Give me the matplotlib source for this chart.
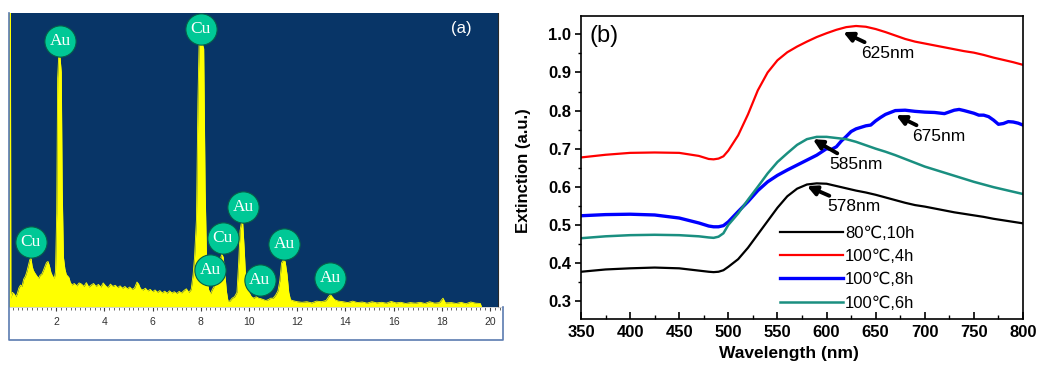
import matplotlib
matplotlib.use("Agg")
import matplotlib.pyplot as plt
from matplotlib.ticker import MultipleLocator
import numpy as np

plt.rcParams['font.family'] = ['Liberation Sans', 'DejaVu Sans']

# ---------------- Panel (a): EDS spectrum ----------------
eds_energy = [0.04, 0.06, 0.10, 0.12, 0.18, 0.25, 0.32, 0.38, 0.45, 0.52, 0.58, 0.65, 0.72, 0.78,
              0.84, 0.90, 0.95, 1.00, 1.05, 1.12, 1.20, 1.27, 1.33, 1.40, 1.47, 1.53, 1.60, 1.66,
              1.72, 1.78, 1.85, 1.92, 1.97, 2.02, 2.06, 2.10, 2.16, 2.21, 2.25, 2.30, 2.36, 2.42,
              2.48, 2.53, 2.58, 2.65, 2.75, 2.85, 2.95, 3.05, 3.15, 3.25, 3.35, 3.45, 3.55, 3.65,
              3.75, 3.85, 3.95, 4.05, 4.15, 4.25, 4.35, 4.45, 4.55, 4.65, 4.75, 4.85, 4.95, 5.05,
              5.15, 5.25, 5.35, 5.42, 5.5, 5.6, 5.7, 5.8, 5.9, 6.0, 6.1, 6.2, 6.3, 6.4, 6.5, 6.6,
              6.7, 6.8, 6.9, 7.0, 7.1, 7.2, 7.3, 7.4, 7.5, 7.6, 7.68, 7.74, 7.82, 7.88, 7.93, 8.05,
              8.12, 8.18, 8.25, 8.32, 8.40, 8.48, 8.55, 8.62, 8.68, 8.74, 8.80, 8.87, 8.93, 9.0,
              9.07, 9.13, 9.2, 9.3, 9.4, 9.5, 9.57, 9.63, 9.68, 9.74, 9.80, 9.86, 9.92, 10.0, 10.1,
              10.2, 10.3, 10.4, 10.5, 10.6, 10.7, 10.8, 10.9, 11.0, 11.1, 11.2, 11.28, 11.35, 11.42,
              11.5, 11.58, 11.65, 11.72, 11.8, 11.9, 12.0, 12.2, 12.4, 12.6, 12.8, 13.0, 13.2, 13.3,
              13.38, 13.45, 13.55, 13.7, 13.9, 14.1, 14.3, 14.5, 14.7, 14.9, 15.1, 15.3, 15.5, 15.7,
              15.9, 16.1, 16.3, 16.5, 16.7, 16.9, 17.1, 17.3, 17.5, 17.7, 17.9, 18.05, 18.15, 18.4,
              18.6, 18.8, 19.0, 19.2, 19.4, 19.6, 19.65]
eds_counts = [0.0, 1.05, 1.05, 0.03, 0.05, 0.045, 0.035, 0.045, 0.065, 0.075, 0.07, 0.095, 0.105, 0.12,
              0.14, 0.16, 0.168, 0.14, 0.125, 0.115, 0.105, 0.098, 0.108, 0.112, 0.125, 0.138, 0.152, 0.155,
              0.14, 0.118, 0.105, 0.098, 0.12, 0.32, 0.78, 0.85, 0.85, 0.80, 0.40, 0.17, 0.13, 0.11,
              0.105, 0.10, 0.085, 0.075, 0.08, 0.072, 0.082, 0.078, 0.07, 0.083, 0.068, 0.075, 0.08, 0.07,
              0.077, 0.068, 0.082, 0.072, 0.066, 0.078, 0.07, 0.074, 0.066, 0.072, 0.064, 0.07, 0.062, 0.068,
              0.06, 0.065, 0.085, 0.078, 0.062, 0.058, 0.064, 0.055, 0.06, 0.052, 0.058, 0.05, 0.056, 0.048, 0.054, 0.047,
              0.055, 0.048, 0.052, 0.046, 0.053, 0.048, 0.056, 0.062, 0.05, 0.06, 0.11, 0.17, 0.30, 0.70, 0.90, 0.90,
              0.88, 0.40, 0.12, 0.06, 0.045, 0.06, 0.07, 0.10, 0.08, 0.12, 0.16, 0.18, 0.17, 0.11,
              0.05, 0.02, 0.02, 0.03, 0.035, 0.05, 0.15, 0.26, 0.285, 0.285, 0.20, 0.10, 0.06, 0.05, 0.035,
              0.03, 0.035, 0.03, 0.028, 0.025, 0.022, 0.025, 0.03, 0.03, 0.04, 0.055, 0.09, 0.15, 0.16,
              0.155, 0.11, 0.05, 0.025, 0.022, 0.02, 0.018, 0.016, 0.018, 0.014, 0.02, 0.018, 0.022, 0.035,
              0.042, 0.035, 0.025, 0.02, 0.018, 0.015, 0.02, 0.015, 0.017, 0.013, 0.018, 0.014, 0.016, 0.013,
              0.019, 0.014, 0.016, 0.012, 0.015, 0.013, 0.016, 0.012, 0.018, 0.013, 0.015, 0.03, 0.014, 0.015,
              0.012, 0.016, 0.011, 0.017, 0.013, 0.012, 0.0]

peak_labels = ['Au', 'Cu', 'Cu', 'Au', 'Cu', 'Au', 'Au', 'Au', 'Au']
peak_label_E = [2.16, 7.99, 0.94, 9.75, 8.91, 8.38, 10.44, 11.45, 13.36]
peak_label_h = [0.905, 0.946, 0.221, 0.340, 0.235, 0.126, 0.092, 0.214, 0.099]

# ---------------- Panel (b): extinction spectra ----------------
wl = [350, 375, 400, 425, 450, 470, 480, 485, 490, 495, 500, 510, 520, 530, 540, 550, 560, 570,
      580, 590, 600, 610, 620, 630, 640, 650, 660, 670, 680, 690, 700, 710, 720, 730, 740, 750,
      760, 770, 780, 790, 800]
ext_80C_10h = [0.377, 0.383, 0.386, 0.388, 0.386, 0.380, 0.377, 0.376, 0.377, 0.381, 0.39, 0.41, 0.44,
               0.475, 0.51, 0.545, 0.575, 0.595, 0.606, 0.609, 0.608, 0.602, 0.596, 0.59, 0.585, 0.579,
               0.572, 0.565, 0.558, 0.552, 0.548, 0.543, 0.538, 0.533, 0.529, 0.525, 0.521, 0.516,
               0.512, 0.508, 0.504]
ext_100C_4h = [0.677, 0.684, 0.689, 0.690, 0.689, 0.681, 0.673, 0.672, 0.674, 0.68, 0.695, 0.735, 0.79,
               0.853, 0.900, 0.932, 0.953, 0.968, 0.981, 0.993, 1.003, 1.012, 1.019, 1.022, 1.020, 1.014,
               1.006, 0.997, 0.988, 0.981, 0.976, 0.971, 0.966, 0.961, 0.956, 0.952, 0.946, 0.939,
               0.933, 0.927, 0.92]
ext_100C_6h = [0.465, 0.470, 0.473, 0.474, 0.473, 0.470, 0.467, 0.466, 0.469, 0.478, 0.50, 0.53, 0.566,
               0.60, 0.635, 0.665, 0.688, 0.71, 0.725, 0.731, 0.731, 0.728, 0.725, 0.718, 0.709, 0.70,
               0.692, 0.683, 0.673, 0.663, 0.653, 0.645, 0.637, 0.629, 0.621, 0.613, 0.606, 0.599,
               0.593, 0.587, 0.581]
wl_8h = [350, 375, 400, 425, 450, 470, 480, 485, 490, 495, 500, 510, 520, 530, 540, 550, 560, 570,
         580, 590, 600, 605, 610, 615, 620, 625, 630, 640, 645, 650, 655, 660, 665, 670, 680, 690,
         700, 710, 720, 730, 735, 740, 750, 755, 760, 765, 770, 775, 780, 785, 790, 795, 800]
ext_100C_8h = [0.524, 0.527, 0.528, 0.526, 0.518, 0.505, 0.497, 0.495, 0.495, 0.498, 0.508, 0.535, 0.561,
               0.59, 0.613, 0.63, 0.644, 0.657, 0.67, 0.683, 0.70, 0.698, 0.705, 0.72, 0.732, 0.745,
               0.752, 0.76, 0.762, 0.773, 0.782, 0.79, 0.795, 0.80, 0.801, 0.798, 0.796, 0.795, 0.792,
               0.801, 0.803, 0.80, 0.793, 0.788, 0.788, 0.784, 0.775, 0.764, 0.766, 0.771, 0.77, 0.767,
               0.762]

series_labels = ['80\u2103,10h', '100\u2103,4h', '100\u2103,8h', '100\u2103,6h']
peak_text = ['625nm', '675nm', '585nm', '578nm']
peak_head_x = [617, 670.7, 586, 580]
peak_head_y = [1.006, 0.788, 0.725, 0.602]
peak_text_x = [635, 687, 603, 601]
peak_text_y = [0.951, 0.733, 0.659, 0.548]

fig = plt.figure(figsize=(10.38, 3.65), dpi=100)

# ---- panel (a)
NAVY = '#083567'
axa = fig.add_axes([9/1038, 25/365, 494/1038, 326.7/365])
axa.set_facecolor('white')
xmin_a, xmax_a = 0.041, 20.54
axa.set_xlim(xmin_a, xmax_a)
axa.set_ylim(-0.1124, 1.0)
axa.add_patch(plt.Rectangle((xmin_a, 0), 20.33 - xmin_a, 1.0, facecolor=NAVY,
                            edgecolor='none', zorder=0))
axa.plot([20.33, 20.33], [0, 1.0], color='#2a2a2a', lw=0.8, zorder=1)
axa.fill_between(eds_energy, 0, eds_counts, color='#ffff00', lw=0, zorder=2)
axa.plot(eds_energy, eds_counts, color='#ffff00', lw=0.6, zorder=2)
axa.plot(peak_label_E, peak_label_h, 'o', ms=22.5, mfc='#00c896', mec='#06604a',
         mew=0.8, zorder=4, linestyle='none')
for t, x, y in zip(peak_labels, peak_label_E, peak_label_h):
    axa.text(x, y, t, ha='center', va='center', color='white', fontsize=12.5,
             family='Liberation Serif', zorder=5)
for s in ['top', 'right', 'left']:
    axa.spines[s].set_visible(False)
axa.spines['bottom'].set_position(('data', 0))
axa.spines['bottom'].set_color('#d0d0d0')
axa.spines['bottom'].set_linewidth(0.6)
axa.xaxis.set_major_locator(MultipleLocator(2))
axa.xaxis.set_minor_locator(MultipleLocator(0.2))
axa.tick_params(axis='x', which='major', direction='out', length=3, width=0.8,
                color='#404040', labelsize=7.5, labelcolor='#303030', pad=4.5)
axa.tick_params(axis='x', which='minor', direction='out', length=2, width=0.6, color='#505050')
axa.set_xticks([2, 4, 6, 8, 10, 12, 14, 16, 18, 20])
axa.set_yticks([])
BORDER = '#5b7bb0'
axa.plot([0, 0, 1, 1], [1.0, 0, 0, 0.1012], transform=axa.transAxes, color=BORDER,
         lw=1.2, clip_on=False, zorder=6)
axa.text(0.895, 0.955, '(a)', transform=axa.transAxes, color='white', fontsize=12,
         ha='left', va='center')

# ---- panel (b)
axb = fig.add_axes([581/1038, 46/365, 442/1038, 303.3/365])
axb.plot(wl, ext_80C_10h, color='black', lw=1.6, label=series_labels[0])
axb.plot(wl, ext_100C_4h, color='#ff0000', lw=1.6, label=series_labels[1])
axb.plot(wl_8h, ext_100C_8h, color='#0000ff', lw=2.4, label=series_labels[2])
axb.plot(wl, ext_100C_6h, color='#1a8f80', lw=1.8, label=series_labels[3])
axb.set_xlim(350, 800)
axb.set_ylim(0.253, 1.049)
axb.xaxis.set_major_locator(MultipleLocator(50))
axb.xaxis.set_minor_locator(MultipleLocator(25))
axb.yaxis.set_major_locator(MultipleLocator(0.1))
axb.yaxis.set_minor_locator(MultipleLocator(0.05))
axb.tick_params(axis='x', which='major', direction='in', length=5, width=1.2, pad=4)
axb.tick_params(axis='x', which='minor', direction='in', length=3, width=1.0)
axb.tick_params(axis='y', which='major', direction='out', length=4, width=1.2, pad=3)
axb.tick_params(axis='y', which='minor', direction='out', length=2.5, width=1.0)
for lab in axb.get_xticklabels() + axb.get_yticklabels():
    lab.set_fontweight('bold')
    lab.set_fontsize(12)
for s in axb.spines.values():
    s.set_linewidth(1.2)
axb.set_xlabel('Wavelength (nm)', fontsize=12.5, fontweight='bold')
axb.xaxis.set_label_coords(0.47, -0.088)
axb.set_ylabel('Extinction (a.u.)', fontsize=12, fontweight='bold')
axb.yaxis.set_label_coords(-0.112, 0.49)
axb.text(0.02, 0.932, '(b)', transform=axb.transAxes, fontsize=17, ha='left', va='center')

for t, hx, hy, tx, ty in zip(peak_text, peak_head_x, peak_head_y, peak_text_x, peak_text_y):
    axb.annotate(t, xy=(hx, hy), xytext=(tx, ty), fontsize=12.5, ha='left', va='center',
                 arrowprops=dict(arrowstyle='-|>', color='black', lw=2.8, mutation_scale=14,
                                 shrinkA=1, shrinkB=0))

axb.legend(loc='upper left', bbox_to_anchor=(0.45, 0.308), frameon=False, fontsize=12,
           handlelength=3.8, handletextpad=0.1, labelspacing=0.5, borderpad=0,
           borderaxespad=0)

fig.savefig('out.png', dpi=100)
